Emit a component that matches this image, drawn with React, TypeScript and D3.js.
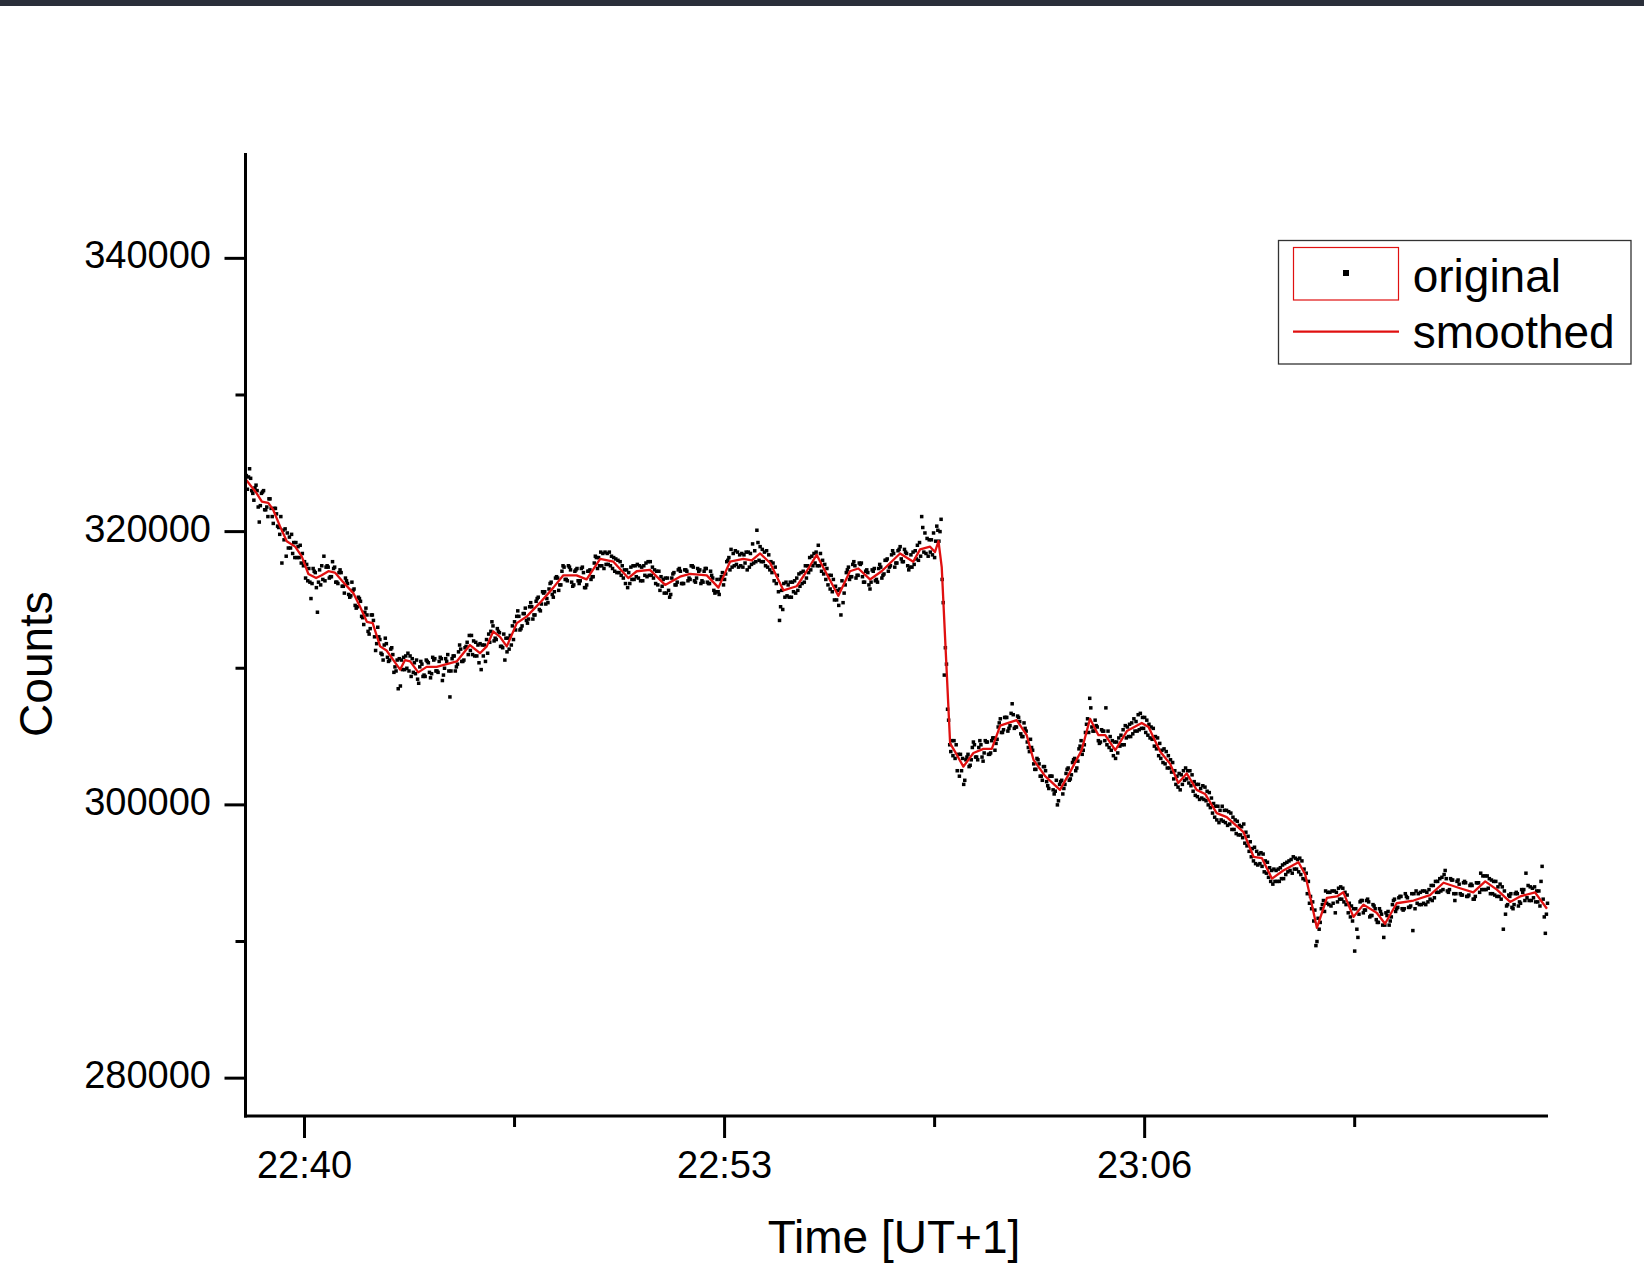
import React, { useEffect } from "react";
import * as d3 from "d3";

// time in minutes after 22:00 (UT+1)
const smoothTimes = [
  38.19, 38.52, 38.68, 38.88, 39.03, 39.24, 39.45, 39.71, 39.91, 40.12,
  40.36, 40.53, 40.74, 40.94, 41.2, 41.51, 41.72, 41.93, 42.11, 42.34,
  42.54, 42.75, 42.96, 43.11, 43.27, 43.52, 43.78, 44.09, 44.4, 44.71,
  45.12, 45.43, 45.64, 45.84, 46.05, 46.26, 46.57, 46.88, 47.29, 47.7,
  48.01, 48.42, 48.73, 49.15, 49.56, 50.02, 50.28, 50.69, 51.16, 51.62,
  51.93, 52.45, 52.81, 53.17, 53.58, 53.84, 54.1, 54.41, 54.82, 55.23,
  55.54, 55.85, 56.16, 56.52, 56.88, 57.14, 57.5, 57.86, 58.43, 58.84,
  59.05, 59.36, 59.51, 59.62, 59.72, 59.98, 60.13, 60.39, 60.7, 61.01,
  61.27, 61.53, 61.78, 62.04, 62.35, 62.56, 62.92, 63.38, 63.69, 64.05,
  64.31, 64.57, 64.78, 65.09, 65.45, 65.91, 66.12, 66.48, 66.79, 67.04,
  67.3, 67.61, 67.87, 68.23, 68.54, 69.06, 69.37, 69.63, 69.94, 70.29,
  70.76, 70.97, 71.12, 71.33, 71.64, 71.95, 72.15, 72.46, 72.77, 73.18,
  73.44, 73.8, 74.32, 74.83, 75.25, 75.76, 76.17, 76.54, 76.9, 77.31,
  77.62, 78.08, 78.45,
];
const smoothCounts = [
  323800, 322800, 322200, 322100, 321600, 320400, 319300, 318900, 318200, 316900,
  316600, 316800, 317100, 317000, 316300, 315500, 314500, 313400, 313300, 311600,
  311300, 310600, 309900, 310600, 310500, 309700, 310100, 310100, 310300, 310500,
  311700, 311100, 311600, 312700, 312300, 311600, 313300, 313800, 314800, 315900,
  316800, 316800, 316500, 318000, 317800, 316600, 317100, 317200, 316100, 316700,
  316900, 316800, 315900, 317800, 318000, 317900, 318400, 317700, 315700, 316000,
  317100, 318300, 316900, 315300, 317100, 317300, 316500, 317100, 318400, 317800,
  318700, 318900, 318500, 319300, 317400, 304500, 303900, 302800, 303800, 304100,
  304100, 305800, 306000, 306200, 305100, 303300, 302100, 301100, 302400, 304000,
  306300, 305100, 305100, 304000, 305400, 306000, 305700, 303900, 303000, 301600,
  302300, 301100, 300800, 299400, 299100, 298000, 296200, 296100, 294600, 295200,
  295800, 294900, 293300, 291000, 293200, 293300, 293600, 291800, 292700, 292100,
  291300, 292800, 293000, 293400, 294300, 293900, 293600, 294400, 293800, 292900,
  293300, 293600, 292400,
];

// original readings: three interleaved passes, each one reading every 0.1 min
const originalStep = 0.1;
const originalStartA = 38.2;
const originalCountsA = [
  324100, 324600, 322800, 323400, 320700, 322900, 321600, 322400, 321100, 321700,
  320300, 317700, 320200, 318800, 319800, 318100, 318900, 317700, 317800, 316400,
  315100, 317100, 314100, 316100, 318200, 317500, 316700, 317300, 316300, 317200,
  316000, 316400, 315200, 315700, 314400, 315100, 313700, 314400, 312500, 313900,
  311300, 312300, 311000, 312200, 310500, 311500, 310100, 308500, 310600, 309900,
  311100, 309400, 310400, 309200, 310500, 309500, 310500, 309300, 310600, 309800,
  310800, 309500, 310500, 307900, 310900, 310100, 311700, 310500, 311600, 312400,
  311000, 311900, 310400, 311700, 310500, 312500, 313400, 312200, 312700, 311600,
  310600, 312200, 311700, 313400, 314200, 312900, 314000, 313300, 314800, 313900,
  315100, 314200, 315500, 315100, 316200, 315200, 316700, 316100, 317500, 316500,
  317400, 316000, 317200, 316200, 317400, 315900, 317100, 316700, 318200, 318100,
  317500, 318500, 317600, 318200, 317100, 317900, 316800, 317200, 315900, 317400,
  316500, 317600, 316400, 317500, 316700, 317800, 316600, 317100, 315700, 316500,
  315500, 315200, 316900, 316100, 317300, 316200, 317200, 316600, 317500, 316300,
  317100, 316400, 317300, 316200, 316800, 315500, 315600, 316700, 316500, 317900,
  318700, 317500, 318500, 317500, 318300, 317200, 318400, 317700, 320100, 318900,
  317800, 318600, 317200, 317700, 316200, 313500, 314300, 316300, 315200, 316300,
  315500, 316900, 316200, 317500, 317000, 318200, 317700, 319000, 317100, 317600,
  316100, 316800, 315000, 315700, 313900, 315500, 317200, 316700, 317800, 316800,
  317600, 316300, 317200, 315800, 317100, 316500, 317600, 316800, 317900, 317400,
  318600, 317700, 318700, 317800, 318500, 317200, 317400, 318600, 317900, 321100,
  319900, 318200, 319400, 318100, 320100, 320900, 309500, 307000, 303900, 304700,
  302500, 303700, 301500, 303500, 302900, 304600, 303500, 304700, 303200, 304600,
  303700, 304900, 304500, 306000, 305300, 306400, 305600, 307400, 305700, 306400,
  305000, 305600, 304200, 304200, 302600, 303300, 302100, 302800, 301400, 302100,
  300800, 300000, 301700, 301200, 302600, 301900, 303300, 302700, 304300, 304000,
  305900, 307800, 305400, 305800, 304500, 305400, 307100, 304200, 304700, 303400,
  304900, 304400, 305800, 305000, 306000, 305400, 306600, 305600, 306400, 305100,
  305700, 304300, 304900, 303400, 304100, 302700, 303300, 301900, 302100, 301100,
  302500, 301900, 302500, 301000, 301500, 300400, 301400, 300300, 300900, 299400,
  299900, 298700, 299900, 298700, 299500, 298200, 298900, 297800, 298400, 297200,
  297700, 296200, 296900, 295600, 296500, 295100, 295800, 294400, 295300, 294400,
  295400, 294600, 295800, 295200, 296200, 295300, 296100, 294600, 295000, 292800,
  292900, 289700, 290900, 292700, 293700, 292700, 293700, 292100, 293900, 293100,
  293600, 292100, 292600, 289300, 290300, 293000, 292300, 293100, 291900, 292600,
  291400, 292200, 290300, 291900, 291500, 293000, 292400, 293300, 292300, 293300,
  292500, 290800, 293700, 292700, 293700, 292700, 293800, 293000, 294400, 293600,
  294700, 295200, 293600, 294500, 293000, 294500, 293400, 294400, 293300, 294200,
  293100, 294300, 295000, 293800, 294800, 293500, 294400, 293300, 294200, 290900,
  292600, 293300, 292400, 293600, 292900, 293600, 295000, 293000, 293900, 292900,
  293700, 295500, 290600,
];
const originalStartB = 38.233;
const originalCountsB = [
  323100, 323900, 322300, 323000, 321900, 323000, 321800, 322400, 320600, 321300,
  319800, 320100, 318200, 319600, 318400, 319200, 318100, 318400, 316600, 317300,
  316200, 317000, 316300, 317500, 316400, 317400, 316700, 317400, 316200, 317000,
  315500, 316200, 315300, 315800, 314500, 314900, 313200, 313900, 312900, 313500,
  311800, 312100, 310600, 311800, 310600, 311000, 309800, 310700, 309900, 310900,
  309800, 310700, 309600, 308900, 310300, 309400, 310400, 309600, 310700, 309700,
  310700, 310000, 311000, 309800, 310900, 310300, 311400, 310600, 311900, 311300,
  312000, 310900, 311800, 310900, 312100, 311900, 313100, 312100, 312600, 311500,
  312200, 311400, 313100, 312800, 313800, 313100, 314400, 313600, 314500, 313900,
  315200, 314700, 315600, 314800, 316300, 315600, 316600, 316100, 317400, 316400,
  317200, 316100, 317300, 316400, 317000, 316100, 317200, 316700, 318100, 317500,
  318400, 317600, 318500, 317300, 318000, 317000, 317500, 316200, 317000, 316500,
  317500, 316600, 317400, 316800, 317800, 316800, 317200, 316100, 316700, 315500,
  316600, 315400, 317000, 316300, 317100, 316200, 317100, 316500, 317400, 316600,
  317200, 316300, 317300, 316200, 316600, 315600, 315400, 317000, 316900, 318100,
  317400, 318600, 317400, 318400, 317700, 318500, 317600, 318600, 319200, 317800,
  318500, 317400, 317800, 316400, 316800, 314500, 316200, 315300, 316300, 315600,
  316600, 316000, 317100, 316600, 318100, 317500, 318500, 317500, 317900, 316500,
  316800, 315600, 316000, 314600, 316400, 316100, 317400, 316700, 317500, 316800,
  317700, 316300, 317000, 316300, 317300, 316300, 317400, 316900, 318000, 317500,
  318400, 317700, 318900, 317800, 318400, 317400, 318500, 318000, 319200, 320300,
  318400, 319400, 318300, 319300, 319300, 316500, 311500, 306200, 304700, 303400,
  303700, 302500, 301800, 303700, 303300, 304400, 303300, 304400, 303800, 304600,
  303800, 304900, 304800, 306300, 305500, 306400, 305800, 306600, 305700, 306100,
  305000, 305400, 303900, 304000, 302600, 303000, 301800, 302500, 301200, 302100,
  301000, 300300, 301800, 301500, 302700, 302200, 303400, 303200, 304700, 304400,
  306300, 307100, 305400, 305700, 304600, 305400, 304400, 305000, 303600, 304600,
  304300, 305500, 304900, 305900, 305200, 306100, 305500, 306400, 305300, 305900,
  304800, 305000, 303600, 304000, 303000, 303600, 302400, 302500, 301300, 302200,
  301800, 302500, 301400, 301700, 300600, 301200, 300400, 301000, 299800, 300100,
  298900, 299600, 298800, 299600, 298600, 299100, 297900, 298500, 297600, 298000,
  296600, 296800, 295700, 296400, 295500, 295900, 294700, 295200, 294400, 295300,
  294600, 295700, 295100, 296000, 295300, 296000, 294900, 295300, 293500, 293300,
  291500, 290000, 291400, 293000, 292800, 293600, 292800, 293600, 293100, 293900,
  292700, 292800, 291500, 292400, 292000, 293000, 292300, 292900, 291900, 292400,
  291400, 292000, 291200, 292200, 291800, 293100, 292500, 293300, 292400, 293200,
  292600, 293500, 292800, 293600, 292800, 293600, 293100, 294100, 293600, 294600,
  293800, 294600, 293800, 294500, 293500, 294200, 293400, 294300, 293400, 294100,
  293300, 294300, 293800, 294800, 293900, 294500, 293400, 294000, 293100, 293700,
  292700, 293500, 292700, 293500, 292800, 293800, 293200, 294000, 293200, 293700,
  292600, 293100, 292000,
];
const originalStartC = 38.267;
const originalCountsC = [
  324000, 323000, 323200, 321800, 322800, 321600, 321100, 321700, 321700, 320400,
  321100, 319400, 319900, 318800, 319200, 318100, 319000, 317500, 317600, 316300,
  317300, 315900, 317200, 316500, 317400, 316600, 317800, 316300, 317000, 316000,
  316600, 315400, 316300, 314600, 315200, 313800, 314100, 312700, 313900, 312300,
  313000, 311100, 311700, 310800, 311400, 309700, 310600, 308700, 310800, 310000,
  310900, 309700, 310600, 310100, 309400, 310600, 309700, 310800, 309800, 310500,
  309100, 310700, 309800, 310700, 309800, 311200, 310500, 311500, 311000, 312400,
  310900, 311700, 309900, 311700, 311100, 312700, 312000, 312900, 311600, 312500,
  311200, 312400, 312100, 313800, 312800, 314000, 313500, 314500, 313600, 314900,
  314300, 315600, 314700, 315800, 315400, 316600, 315700, 317100, 316500, 317500,
  316300, 317100, 316400, 317300, 315900, 317100, 316500, 317700, 317300, 318500,
  317300, 318400, 317500, 318100, 317000, 317800, 316600, 317200, 316200, 317500,
  316700, 317500, 316400, 317700, 316800, 317400, 316200, 317100, 316000, 316600,
  315700, 316600, 316100, 317200, 316200, 317200, 316400, 317500, 316400, 317300,
  316200, 317100, 316300, 317100, 315700, 316500, 316500, 316100, 317800, 317200,
  318400, 317600, 318300, 317400, 318500, 317400, 319100, 317800, 317900, 318700,
  317500, 318300, 317000, 317400, 315600, 315700, 315200, 316100, 315200, 316400,
  315700, 317000, 316300, 317500, 317200, 318400, 317500, 318400, 316900, 317300,
  315800, 316500, 315000, 315800, 314800, 317000, 316500, 317600, 316600, 317700,
  316700, 317100, 316100, 317200, 316400, 317300, 316600, 317900, 317100, 318300,
  317400, 318600, 318000, 318700, 317500, 318300, 317600, 319000, 318200, 318500,
  319500, 318500, 319900, 320400, 320000, 314800, 310300, 304400, 303600, 304400,
  302100, 303400, 303300, 302800, 304200, 303500, 304200, 303500, 304700, 303700,
  304700, 304000, 305700, 305300, 306400, 305400, 306700, 305600, 306500, 305200,
  306000, 304600, 304800, 303000, 303400, 302100, 302800, 301700, 302100, 301100,
  301800, 301500, 300800, 302300, 301800, 303100, 302500, 304100, 303700, 305300,
  305300, 305700, 306200, 304700, 305500, 304700, 305400, 304000, 304600, 303800,
  305100, 304400, 305700, 305000, 306300, 305400, 306700, 305600, 306200, 304900,
  305600, 304100, 304500, 303100, 303900, 302700, 303100, 301500, 302300, 301500,
  302700, 301600, 302200, 300700, 301500, 300500, 301300, 300000, 300500, 299100,
  299900, 298900, 299600, 298500, 299400, 298200, 298800, 297800, 298600, 297000,
  297300, 295900, 296600, 295700, 296400, 295000, 295400, 294200, 295200, 294400,
  295600, 294900, 295900, 295000, 296100, 295100, 295900, 294500, 294400, 292400,
  292300, 291700, 292400, 292200, 293600, 292600, 293700, 292900, 294000, 292900,
  293400, 291800, 292400, 290900, 292900, 292100, 293000, 291800, 292700, 291600,
  292400, 291200, 292100, 291200, 292700, 292200, 293200, 292400, 293500, 292500,
  293500, 292400, 293500, 292700, 293700, 292900, 294100, 293200, 294400, 293700,
  294900, 293700, 294600, 293500, 294400, 293500, 294300, 293300, 294100, 293100,
  294300, 293600, 294800, 293800, 294600, 293500, 294400, 293300, 294000, 292000,
  293400, 292500, 293500, 292600, 293800, 293000, 294100, 293000, 294000, 292900,
  294400, 291800, 292800,
];

const majorTimeTicks = [40, 53, 66];
const minorTimeTicks = [46.5, 59.5, 72.5];
const majorCountTicks = [280000, 300000, 320000, 340000];
const minorCountTicks = [290000, 310000, 330000];

const legendLabels = ["original", "smoothed"];
const xTitle = "Time [UT+1]";
const yTitle = "Counts";

const FONT = "'Liberation Sans', Arial, Helvetica, sans-serif";
const RED = "#e01010";

function fmtTime(m: number) {
  const h = 22 + Math.floor(m / 60);
  const mm = Math.round(m % 60);
  return `${h}:${String(mm).padStart(2, "0")}`;
}

export default function App() {
  useEffect(() => {
    document.body.style.margin = "0";
    document.body.style.overflow = "hidden";
  }, []);

  const W = 1644;
  const H = 1264;
  const x = d3.scaleLinear().domain([38.18, 78.47]).range([245.7, 1547.6]);
  const y = d3.scaleLinear().domain([277230, 347710]).range([1116, 153]);

  const smoothData: [number, number][] = smoothTimes.map((t, i) => [t, smoothCounts[i]]);
  const line = d3
    .line<[number, number]>()
    .x((d) => x(d[0]))
    .y((d) => y(d[1]));

  const passes: [number, number[]][] = [
    [originalStartA, originalCountsA],
    [originalStartB, originalCountsB],
    [originalStartC, originalCountsC],
  ];
  const origData: [number, number][] = [];
  passes.forEach(([start, arr]) =>
    arr.forEach((v, i) => origData.push([start + i * originalStep, v]))
  );

  const axisX0 = 245.5;
  const axisY0 = 1116;
  const sq = 3.5;

  return (
    <svg
      width={W}
      height={H}
      viewBox={`0 0 ${W} ${H}`}
      style={{ position: "absolute", left: 0, top: 0, background: "#fff" }}
    >
      <rect x={0} y={0} width={W} height={H} fill="#ffffff" />
      <rect x={0} y={0} width={W} height={6} fill="#2a2f3a" />

      {/* original points */}
      <g fill="#000">
        {origData.map((d, i) => (
          <rect key={i} x={x(d[0]) - sq / 2} y={y(d[1]) - sq / 2} width={sq} height={sq} />
        ))}
      </g>

      {/* smoothed line */}
      <path d={line(smoothData) || ""} fill="none" stroke={RED} strokeWidth={2.3} strokeLinejoin="round" />

      {/* axes */}
      <g stroke="#000" strokeWidth={3} fill="none">
        <line x1={axisX0} y1={153} x2={axisX0} y2={axisY0 + 1.5} />
        <line x1={axisX0 - 1.5} y1={axisY0} x2={1548} y2={axisY0} />
        {majorCountTicks.map((v) => (
          <line key={"my" + v} x1={axisX0 - 21} x2={axisX0} y1={y(v)} y2={y(v)} />
        ))}
        {minorCountTicks.map((v) => (
          <line key={"ny" + v} x1={axisX0 - 10} x2={axisX0} y1={y(v)} y2={y(v)} />
        ))}
        {majorTimeTicks.map((t) => (
          <line key={"mx" + t} x1={x(t)} x2={x(t)} y1={axisY0} y2={axisY0 + 22} />
        ))}
        {minorTimeTicks.map((t) => (
          <line key={"nx" + t} x1={x(t)} x2={x(t)} y1={axisY0} y2={axisY0 + 11} />
        ))}
      </g>

      <g fontFamily={FONT} fill="#000">
        {majorCountTicks.map((v) => (
          <text key={"ly" + v} x={211} y={y(v) + 10} fontSize={38} textAnchor="end">
            {String(v)}
          </text>
        ))}
        {majorTimeTicks.map((t) => (
          <text key={"lx" + t} x={x(t)} y={1178} fontSize={38} textAnchor="middle">
            {fmtTime(t)}
          </text>
        ))}
        <text x={894} y={1253} fontSize={46} textAnchor="middle">
          {xTitle}
        </text>
        <text transform="translate(52,664) rotate(-90)" fontSize={46} textAnchor="middle">
          {yTitle}
        </text>
      </g>

      {/* legend */}
      <g>
        <rect x={1278.5} y={240.5} width={352.5} height={123.5} fill="#fff" stroke="#333" strokeWidth={1.3} />
        <rect x={1293.5} y={247.5} width={105} height={52.5} fill="none" stroke={RED} strokeWidth={1.2} />
        <rect x={1343} y={270} width={6} height={6} fill="#000" />
        <line x1={1293} x2={1399} y1={331.7} y2={331.7} stroke={RED} strokeWidth={2.2} />
        <text x={1412.7} y={291.7} fontSize={46} fontFamily={FONT} fill="#000">
          {legendLabels[0]}
        </text>
        <text x={1412.7} y={348} fontSize={46} fontFamily={FONT} fill="#000">
          {legendLabels[1]}
        </text>
      </g>
    </svg>
  );
}
